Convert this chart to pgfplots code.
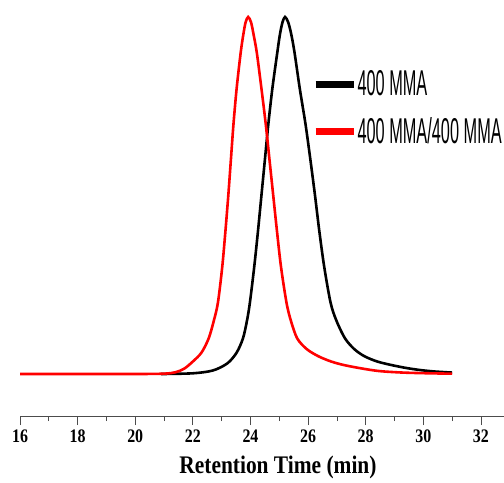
\documentclass[border=0pt]{standalone}
\usepackage{fontspec}
\setmainfont{Liberation Serif}
\newfontfamily\legfont{Liberation Sans}
\usepackage{graphicx}
\usepackage{pgfplots}
\pgfplotsset{compat=1.18}
\newcommand{\lt}[1]{\scalebox{0.455}[1]{\legfont\fontsize{36}{36}\selectfont #1}}
\newcommand{\tl}[1]{\scalebox{1}[1.2]{\bfseries\fontsize{16}{16}\selectfont #1}}
\begin{document}
\begin{tikzpicture}
\useasboundingbox (-20bp,-67bp) rectangle (484bp,416bp);
\begin{axis}[
  scale only axis,
  width=484bp, height=416bp,
  xmin=16, xmax=32.8,
  ymin=-0.1176, ymax=1.0476,
  axis x line*=bottom,
  hide y axis,
  x axis line style={black!70, line width=0.8bp, -},
  xtick={16,18,20,22,24,26,28,30,32},
  xticklabels={\tl{16},\tl{18},\tl{20},\tl{22},\tl{24},\tl{26},\tl{28},\tl{30},\tl{32}},
  minor x tick num=1,
  tick align=outside,
  major tick length=9bp,
  minor tick length=5bp,
  every tick/.style={black!70, line width=0.8bp},
  xticklabel style={anchor=center, yshift=-11bp},
  xlabel={\scalebox{1}[1.18]{\bfseries\fontsize{21.5}{21.5}\selectfont Retention Time (min)}},
  xlabel style={at={(axis description cs:0.533,0)}, anchor=center, yshift=-51bp},
  legend style={at={(axis description cs:0.603,0.83)}, anchor=north west, draw=none, fill=none,
    inner sep=0pt, row sep=20bp, nodes={inner xsep=0.5bp, inner ysep=0pt}},
  legend cell align=left,
  legend image code/.code={\draw[line width=7bp,#1] (0bp,0bp) -- (38bp,0bp);},
]
\addplot[black, line width=2.6bp, smooth, tension=0.5] coordinates {
(20.9,0) (22.0,0.002) (22.7,0.01) (23.2,0.03) (23.52,0.06) (23.74,0.1)
(23.88,0.15) (23.98,0.2) (24.13,0.3) (24.26,0.4) (24.38,0.5) (24.50,0.6)
(24.62,0.7) (24.76,0.8) (24.93,0.9) (25.02,0.95) (25.11,0.985) (25.2,1.0)
(25.31,0.985) (25.42,0.95) (25.53,0.9) (25.71,0.8) (25.91,0.7) (26.08,0.6)
(26.24,0.5) (26.39,0.4) (26.56,0.3) (26.78,0.2) (26.98,0.15) (27.28,0.1)
(27.6,0.07) (27.95,0.05) (28.4,0.035) (28.9,0.025) (29.4,0.017) (29.9,0.011)
(30.4,0.007) (31.0,0.004)
};
\addlegendentry{\lt{400 MMA}}
\addplot[red, line width=2.6bp, smooth, tension=0.5] coordinates {
(16,0) (18,0) (20,0) (21.0,0.001) (21.4,0.005) (21.7,0.015) (22.0,0.035)
(22.3,0.06) (22.55,0.1) (22.73,0.15) (22.87,0.2) (23.02,0.3) (23.13,0.4)
(23.23,0.5) (23.32,0.6) (23.41,0.7) (23.52,0.8) (23.66,0.9) (23.75,0.95)
(23.83,0.985) (23.92,1.0) (24.02,0.985) (24.11,0.95) (24.22,0.9) (24.38,0.8)
(24.53,0.7) (24.66,0.6) (24.79,0.5) (24.92,0.4) (25.06,0.3) (25.25,0.2)
(25.40,0.15) (25.62,0.1) (25.95,0.07) (26.35,0.05) (26.8,0.035) (27.25,0.025)
(27.9,0.015) (28.5,0.008) (29.3,0.004) (30.2,0.002) (31.0,0.001)
};
\addlegendentry{\lt{400 MMA/400 MMA}}
\end{axis}
\end{tikzpicture}
\end{document}
